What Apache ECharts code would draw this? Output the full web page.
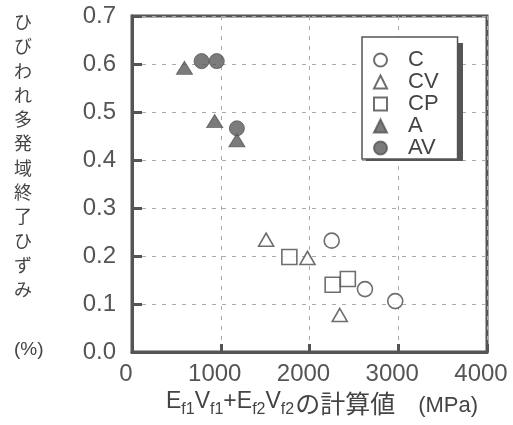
<!DOCTYPE html>
<html><head><meta charset="utf-8">
<script src="https://cdn.jsdelivr.net/npm/echarts@6/dist/echarts.min.js"></script>
<style>html,body{margin:0;padding:0;background:#fff}#c{width:513px;height:425px}</style>
</head><body><div id="c"></div>
<script>
const seriesNames = ['C', 'CV', 'CP', 'A', 'AV'];
const cX = [2250, 2625, 2966];
const cY = [0.232, 0.131, 0.106];
const cvX = [1511, 1977, 2341];
const cvY = [0.234, 0.196, 0.077];
const cpX = [1773, 2261, 2432];
const cpY = [0.198, 0.140, 0.152];
const aX = [591, 932, 1182];
const aY = [0.592, 0.481, 0.441];
const avX = [784, 955, 1182];
const avY = [0.606, 0.606, 0.466];
const xTicks = [0, 1000, 2000, 3000, 4000];
const yTicks = [0.0, 0.1, 0.2, 0.3, 0.4, 0.5, 0.6, 0.7];
const yNameChars = ['ひ','び','わ','れ','多','発','域','終','了','ひ','ず','み'];

const pair = (xs, ys) => xs.map((x, i) => [x, ys[i]]);
const ink = '#4a4a4a';
const openStyle = { color: '#fff', borderColor: ink, borderWidth: 1.6 };
const fillStyle = { color: '#5a5a5a', borderColor: '#555', borderWidth: 1 };
const F = '"Liberation Sans", Arial, sans-serif';
const JF = '"Noto Sans CJK JP", sans-serif';

const chart = echarts.init(document.getElementById('c'), null, { renderer: 'canvas' });
chart.setOption({
  backgroundColor: '#fff',
  animation: false,
  grid: { left: 132, right: 26, top: 16, bottom: 73, show: true, borderColor: '#555', borderWidth: 3, backgroundColor: 'transparent' },
  xAxis: {
    type: 'value', min: 0, max: 4000, interval: 1000,
    axisLine: { show: true, lineStyle: { color: '#555', width: 3 } },
    axisTick: { show: true, inside: true, length: 8, lineStyle: { color: '#555', width: 3 } },
    axisLabel: { color: '#555', fontSize: 24, fontFamily: F, margin: 10, padding: [0, 12, 0, 0], formatter: v => xTicks.includes(v) ? String(v) : '' },
    splitLine: { show: true, lineStyle: { color: '#aaa', type: [4, 6], width: 1 } }
  },
  yAxis: {
    type: 'value', min: 0, max: 0.7, interval: 0.1,
    axisLine: { show: true, lineStyle: { color: '#555', width: 3 } },
    axisTick: { show: true, inside: true, length: 10, lineStyle: { color: '#555', width: 3 } },
    axisLabel: { color: '#555', fontSize: 24, fontFamily: F, margin: 16, padding: [12, 0, 0, 0], formatter: v => { const t = yTicks.find(k => Math.abs(k - v) < 1e-6); return t === undefined ? '' : t.toFixed(1); } },
    splitLine: { show: true, lineStyle: { color: '#aaa', type: [4, 6], width: 1 } }
  },
  legend: {
    orient: 'vertical', left: 362, top: 37,
    data: seriesNames,
    itemWidth: 13, itemHeight: 13, itemGap: 0,
    padding: [12, 19, 0, 11],
    backgroundColor: '#fff', borderColor: '#555', borderWidth: 1.5,
    textStyle: { color: '#444', fontSize: 22, fontFamily: F, lineHeight: 22, padding: [0, 0, 0, 16] },
    z: 5
  },
  series: [
    { name: 'C', type: 'scatter', symbol: 'circle', symbolSize: 15, itemStyle: openStyle, data: pair(cX, cY) },
    { name: 'CV', type: 'scatter', symbol: 'triangle', symbolSize: [15, 13], itemStyle: openStyle, data: pair(cvX, cvY) },
    { name: 'CP', type: 'scatter', symbol: 'rect', symbolSize: 15, itemStyle: openStyle, data: pair(cpX, cpY) },
    { name: 'A', type: 'scatter', symbol: 'triangle', symbolSize: [16, 13], itemStyle: fillStyle, data: pair(aX, aY) },
    { name: 'AV', type: 'scatter', symbol: 'circle', symbolSize: 15, itemStyle: fillStyle, data: pair(avX, avY), z: 3 }
  ],
  graphic: [
    { type: 'rect', z: 4, shape: { x: 366, y: 43, width: 97, height: 118 }, style: { fill: '#555' } },
    { type: 'text', left: 14, top: 10, style: { text: yNameChars.join('\n'), font: '18px ' + JF, lineHeight: 24.3, fill: '#444', align: 'center' } },
    { type: 'text', left: 14, top: 340, style: { text: '(%)', font: '19px ' + F, fill: '#444' } },
    { type: 'text', left: 166, top: 390, style: {
        text: '{n|E}{s|f1}{n|V}{s|f1}{n|+E}{s|f2}{n|V}{s|f2}{j|の計算値}{m|(MPa)}',
        rich: {
          n: { fontSize: 23, fontFamily: F, fill: '#444', verticalAlign: 'bottom', lineHeight: 28, padding: [0, 0, 5, 0] },
          s: { fontSize: 16, fontFamily: F, fill: '#444', verticalAlign: 'bottom', lineHeight: 18 },
          j: { fontSize: 25, fontFamily: JF, fill: '#444', verticalAlign: 'bottom', lineHeight: 28, padding: [0, 0, 2, 1] },
          m: { fontSize: 22, fontFamily: F, fill: '#444', verticalAlign: 'bottom', lineHeight: 28, padding: [0, 0, 1, 23] }
        }
    } }
  ]
});
</script></body></html>
